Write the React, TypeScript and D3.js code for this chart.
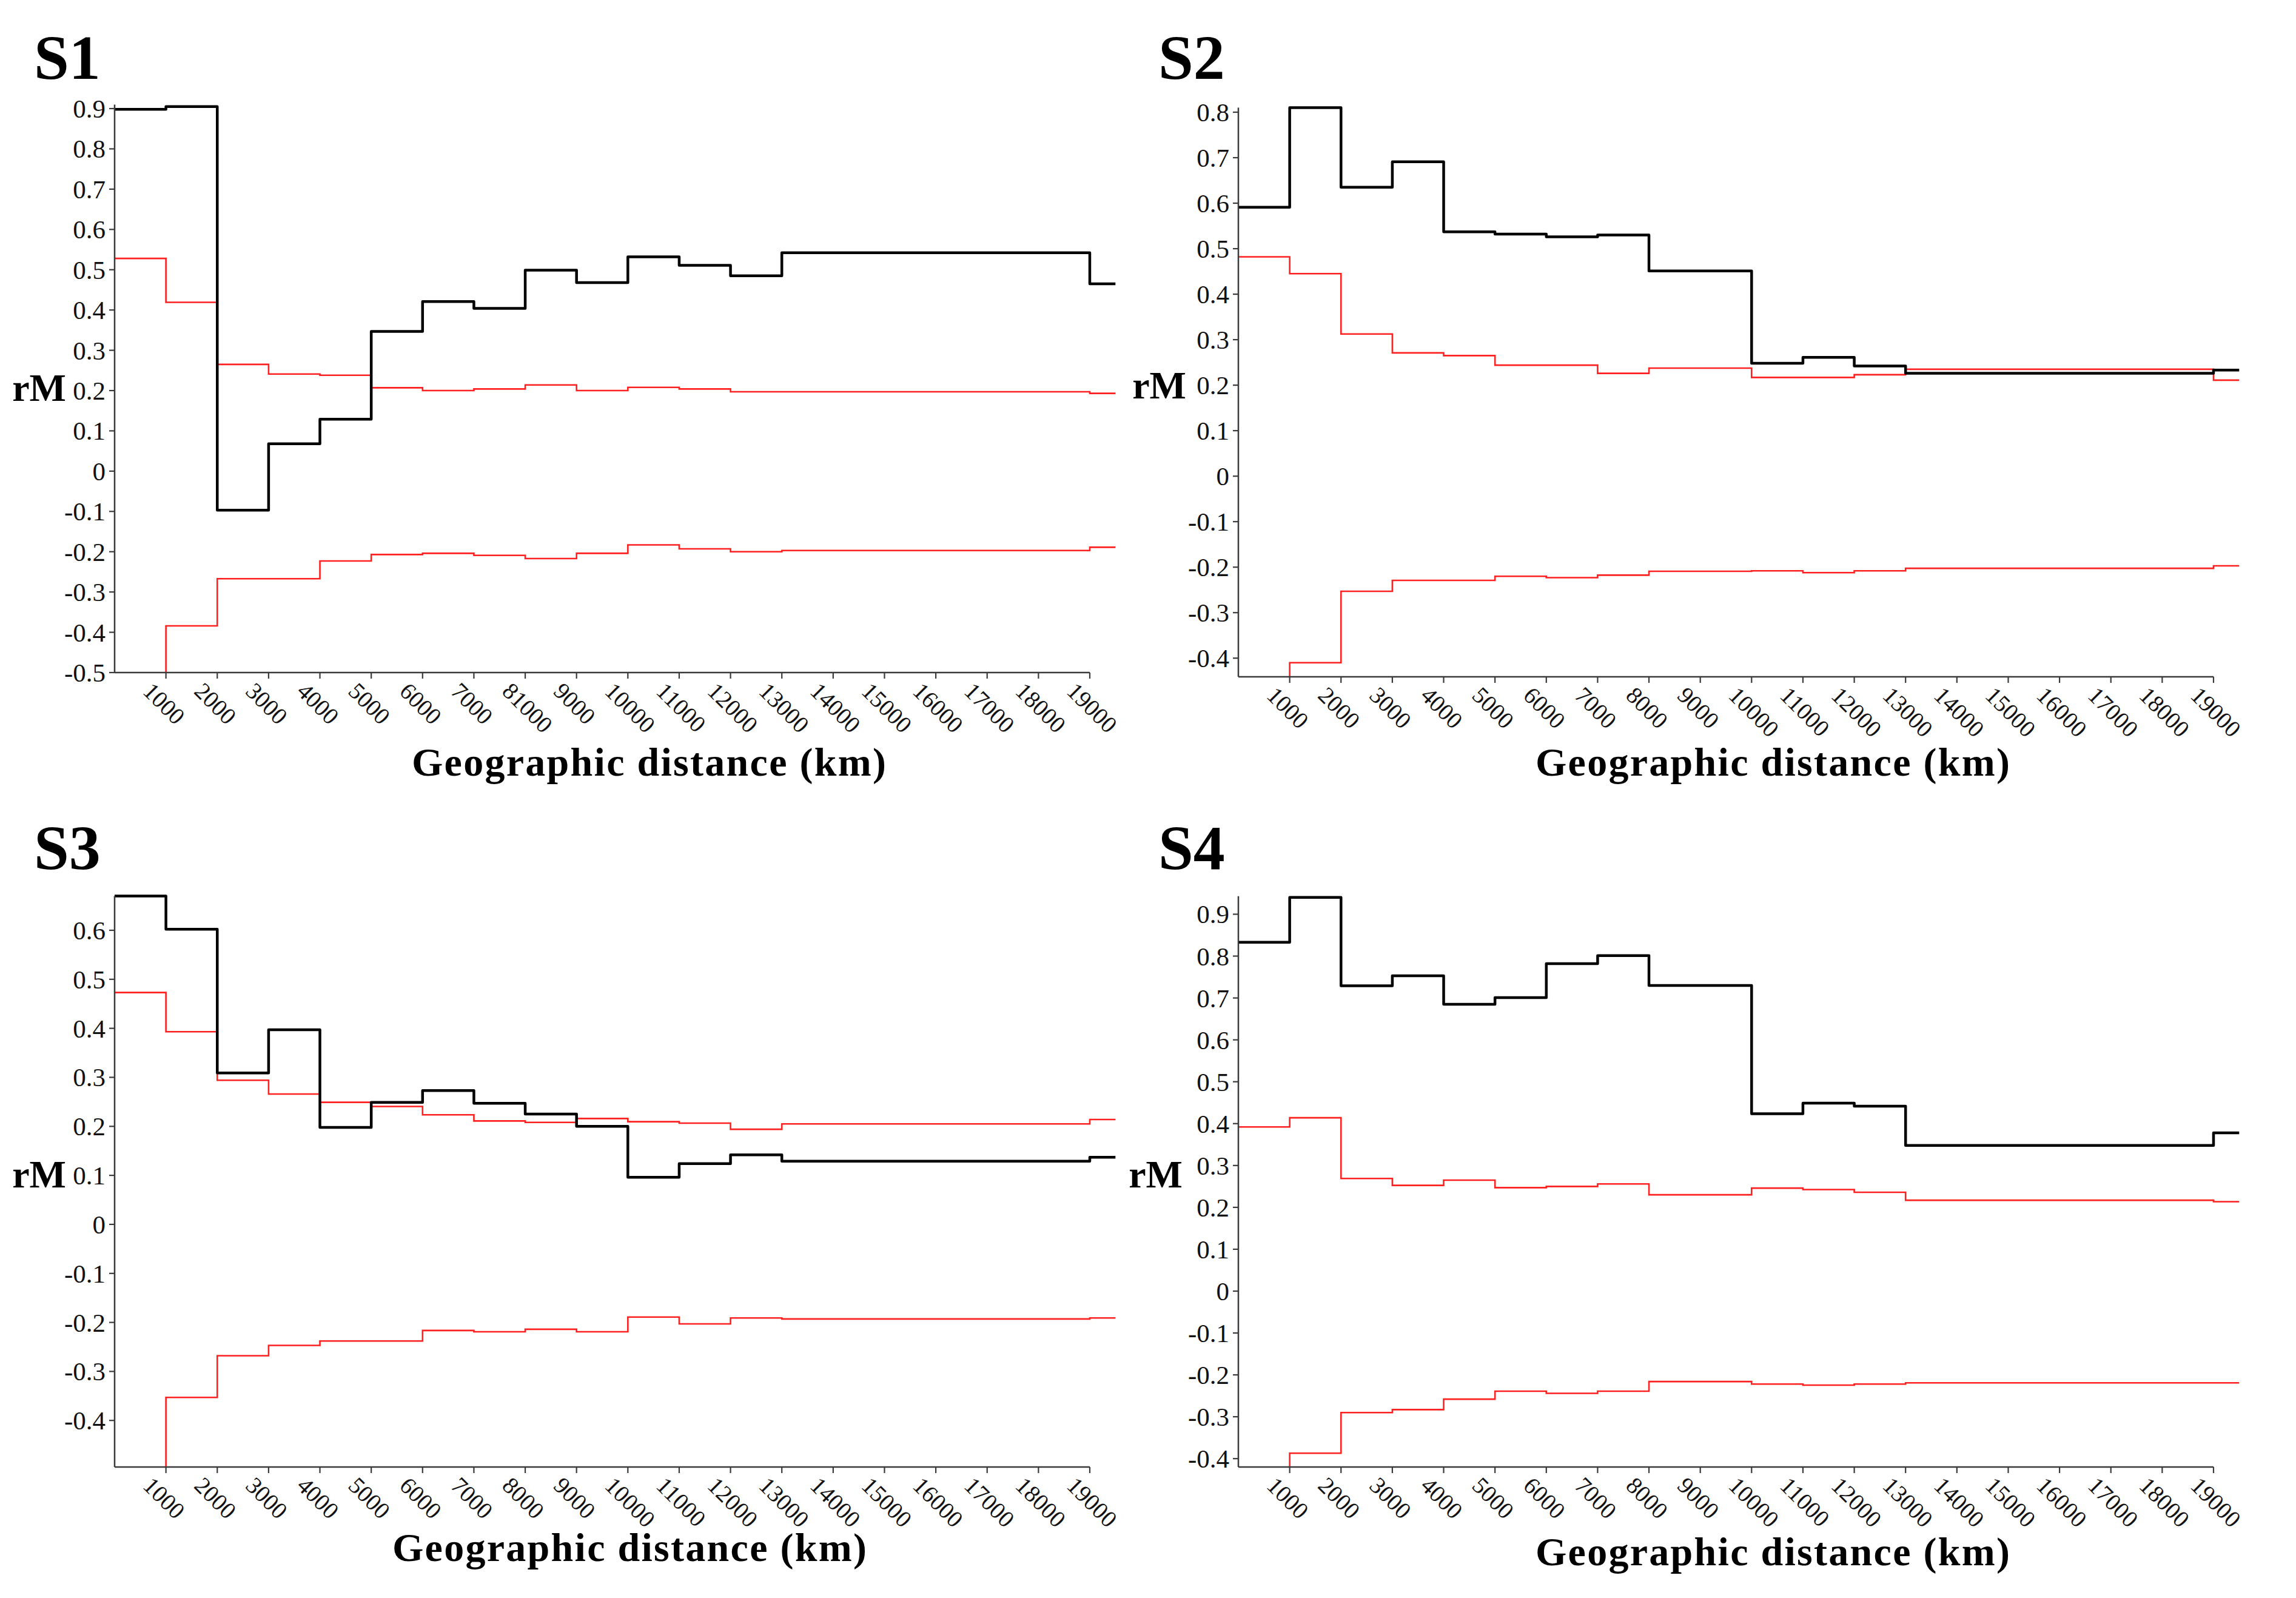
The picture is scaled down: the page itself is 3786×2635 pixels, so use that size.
import React from 'react';
import * as d3 from 'd3';

// ---------- data ----------
// start of each distance class (km); last class runs to distanceEnd
const distances = [0, 1000, 2000, 3000, 4000, 5000, 6000, 7000, 8000, 9000, 10000, 11000, 12000, 13000, 14000, 15000, 16000, 17000, 18000, 19000];
const distanceEnd = 19500;
const xTickValues = [1000, 2000, 3000, 4000, 5000, 6000, 7000, 8000, 9000, 10000, 11000, 12000, 13000, 14000, 15000, 16000, 17000, 18000, 19000];
const xTickLabels = ['1000', '2000', '3000', '4000', '5000', '6000', '7000', '8000', '9000', '10000', '11000', '12000', '13000', '14000', '15000', '16000', '17000', '18000', '19000'];
const xTickLabelsS1 = ['1000', '2000', '3000', '4000', '5000', '6000', '7000', '81000', '9000', '10000', '11000', '12000', '13000', '14000', '15000', '16000', '17000', '18000', '19000'];

const s1Observed = [0.898, 0.905, -0.097, 0.068, 0.129, 0.347, 0.421, 0.404, 0.499, 0.468, 0.532, 0.511, 0.485, 0.542, 0.542, 0.542, 0.542, 0.542, 0.542, 0.465];
const s1Upper = [0.528, 0.419, 0.265, 0.241, 0.238, 0.207, 0.200, 0.204, 0.214, 0.200, 0.208, 0.204, 0.197, 0.197, 0.197, 0.197, 0.197, 0.197, 0.197, 0.193];
const s1Lower = [-0.56, -0.384, -0.267, -0.267, -0.223, -0.207, -0.204, -0.209, -0.217, -0.204, -0.183, -0.193, -0.200, -0.197, -0.197, -0.197, -0.197, -0.197, -0.197, -0.189];
const s1YTicks = [0.9, 0.8, 0.7, 0.6, 0.5, 0.4, 0.3, 0.2, 0.1, 0, -0.1, -0.2, -0.3, -0.4, -0.5];

const s2Observed = [0.591, 0.81, 0.635, 0.691, 0.537, 0.532, 0.526, 0.53, 0.451, 0.451, 0.248, 0.261, 0.242, 0.226, 0.226, 0.226, 0.226, 0.226, 0.226, 0.233];
const s2Upper = [0.482, 0.445, 0.3125, 0.271, 0.265, 0.244, 0.244, 0.226, 0.2375, 0.2375, 0.217, 0.217, 0.223, 0.235, 0.235, 0.235, 0.235, 0.235, 0.235, 0.211];
const s2Lower = [-0.5, -0.41, -0.253, -0.229, -0.229, -0.22, -0.223, -0.2175, -0.209, -0.209, -0.208, -0.212, -0.208, -0.2025, -0.2025, -0.2025, -0.2025, -0.2025, -0.2025, -0.197];
const s2YTicks = [0.8, 0.7, 0.6, 0.5, 0.4, 0.3, 0.2, 0.1, 0, -0.1, -0.2, -0.3, -0.4];

const s3Observed = [0.67, 0.602, 0.309, 0.397, 0.198, 0.249, 0.273, 0.247, 0.225, 0.2, 0.096, 0.124, 0.142, 0.129, 0.129, 0.129, 0.129, 0.129, 0.129, 0.137];
const s3Upper = [0.473, 0.393, 0.294, 0.266, 0.249, 0.2405, 0.2235, 0.211, 0.208, 0.216, 0.2095, 0.2065, 0.194, 0.205, 0.205, 0.205, 0.205, 0.205, 0.205, 0.214];
const s3Lower = [-0.56, -0.353, -0.268, -0.247, -0.238, -0.238, -0.2165, -0.219, -0.214, -0.219, -0.189, -0.203, -0.191, -0.193, -0.193, -0.193, -0.193, -0.193, -0.193, -0.191];
const s3YTicks = [0.6, 0.5, 0.4, 0.3, 0.2, 0.1, 0, -0.1, -0.2, -0.3, -0.4];

const s4Observed = [0.833, 0.94, 0.729, 0.753, 0.685, 0.701, 0.782, 0.801, 0.73, 0.73, 0.4235, 0.449, 0.4415, 0.348, 0.348, 0.348, 0.348, 0.348, 0.348, 0.378];
const s4Upper = [0.392, 0.414, 0.269, 0.2525, 0.265, 0.247, 0.25, 0.256, 0.23, 0.23, 0.246, 0.2425, 0.236, 0.217, 0.217, 0.217, 0.217, 0.217, 0.217, 0.2135];
const s4Lower = [-0.45, -0.387, -0.29, -0.283, -0.258, -0.239, -0.244, -0.239, -0.216, -0.216, -0.222, -0.2245, -0.222, -0.219, -0.219, -0.219, -0.219, -0.219, -0.219, -0.219];
const s4YTicks = [0.9, 0.8, 0.7, 0.6, 0.5, 0.4, 0.3, 0.2, 0.1, 0, -0.1, -0.2, -0.3, -0.4];

const panelNames = ['S1', 'S2', 'S3', 'S4'];
const xTitle = 'Geographic distance (km)';
const yTitle = 'rM';

// ---------- layout ----------
const W = 3786;
const H = 2635;
const SERIF = "'Liberation Serif', 'Times New Roman', serif";

type PanelCfg = {
  id: string;
  name: string;
  observed: number[];
  upper: number[];
  lower: number[];
  yTicks: number[];
  xLabels: string[];
  xRange: [number, number];
  yDomain: [number, number];
  yRange: [number, number];
  titleX: number;
  titleY: number;
  rmX: number;
  rmY: number;
  xtX: number;
  xtY: number;
};

const panels: PanelCfg[] = [
  { id: 'p1', name: panelNames[0], observed: s1Observed, upper: s1Upper, lower: s1Lower, yTicks: s1YTicks, xLabels: xTickLabelsS1,
    xRange: [189, 1797], yDomain: [-0.5, 0.91], yRange: [1109, 172.4], titleX: 56, titleY: 130, rmX: 109, rmY: 661, xtX: 1070, xtY: 1279 },
  { id: 'p2', name: panelNames[1], observed: s2Observed, upper: s2Upper, lower: s2Lower, yTicks: s2YTicks, xLabels: xTickLabels,
    xRange: [2042, 3650], yDomain: [-0.441, 0.81], yRange: [1116, 177.5], titleX: 1910, titleY: 130, rmX: 1956, rmY: 657, xtX: 2923, xtY: 1279 },
  { id: 'p3', name: panelNames[2], observed: s3Observed, upper: s3Upper, lower: s3Lower, yTicks: s3YTicks, xLabels: xTickLabels,
    xRange: [189, 1797], yDomain: [-0.495, 0.67], yRange: [2419, 1477.4], titleX: 56, titleY: 1433, rmX: 109, rmY: 1958, xtX: 1038, xtY: 2574 },
  { id: 'p4', name: panelNames[3], observed: s4Observed, upper: s4Upper, lower: s4Lower, yTicks: s4YTicks, xLabels: xTickLabels,
    xRange: [2042, 3650], yDomain: [-0.42, 0.943], yRange: [2419, 1477.8], titleX: 1910, titleY: 1433, rmX: 1950, rmY: 1958, xtX: 2923, xtY: 2581 },
];

const fmt = (v: number) => (v === 0 ? '0' : String(v));

function Panel({ cfg }: { cfg: PanelCfg }) {
  const x = d3.scaleLinear().domain([0, 19000]).range(cfg.xRange);
  const y = d3.scaleLinear().domain(cfg.yDomain).range(cfg.yRange);
  const line = d3
    .line<[number, number]>()
    .x((d) => x(d[0]))
    .y((d) => y(d[1]))
    .curve(d3.curveStepAfter);
  const pts = (vals: number[]): [number, number][] => {
    const p: [number, number][] = distances.map((d, i) => [d, vals[i]]);
    p.push([distanceEnd, vals[vals.length - 1]]);
    return p;
  };
  const xl = x(0);
  const yb = y(cfg.yDomain[0]);
  const yt = y(cfg.yDomain[1]);
  const xr = x(distanceEnd);
  const axisColor = '#3a3a3a';
  return (
    <g>
      <defs>
        <clipPath id={`clip-${cfg.id}`}>
          <rect x={xl} y={yt - 8} width={xr - xl + 6} height={yb - yt + 8} />
        </clipPath>
      </defs>
      <text x={cfg.titleX} y={cfg.titleY} fontFamily={SERIF} fontWeight="bold" fontSize={104} fill="#000">
        {cfg.name}
      </text>
      <text x={cfg.rmX} y={cfg.rmY} textAnchor="end" fontFamily={SERIF} fontWeight="bold" fontSize={64} fill="#000">
        {yTitle}
      </text>
      <text x={cfg.xtX} y={cfg.xtY} textAnchor="middle" fontFamily={SERIF} fontWeight="bold" fontSize={66}
        textLength={782} lengthAdjust="spacing" fill="#000">
        {xTitle}
      </text>
      {/* data */}
      <g clipPath={`url(#clip-${cfg.id})`} fill="none">
        <path d={line(pts(cfg.upper)) || ''} stroke="#ff2020" strokeWidth={2.6} />
        <path d={line(pts(cfg.lower)) || ''} stroke="#ff2020" strokeWidth={2.6} />
        <path d={line(pts(cfg.observed)) || ''} stroke="#000" strokeWidth={4.5} strokeLinejoin="round" />
      </g>
      {/* axes */}
      <line x1={xl} x2={xl} y1={yt} y2={yb} stroke={axisColor} strokeWidth={2.5} />
      <line x1={xl} x2={x(19000)} y1={yb} y2={yb} stroke={axisColor} strokeWidth={2.5} />
      {cfg.yTicks.map((t) => (
        <g key={`y${t}`}>
          <line x1={xl - 9} x2={xl} y1={y(t)} y2={y(t)} stroke={axisColor} strokeWidth={2.2} />
          <text x={xl - 15} y={y(t) + 15} textAnchor="end" fontFamily={SERIF} fontSize={43} fill="#111">
            {fmt(t)}
          </text>
        </g>
      ))}
      {xTickValues.map((t, i) => (
        <g key={`x${t}`}>
          <line x1={x(t)} x2={x(t)} y1={yb} y2={yb + 10} stroke={axisColor} strokeWidth={2.2} />
          <text transform={`translate(${x(t) - 40},${yb + 33}) rotate(45)`} fontFamily={SERIF} fontSize={39} fill="#111">
            {cfg.xLabels[i]}
          </text>
        </g>
      ))}
    </g>
  );
}

export default function App() {
  return (
    <svg width={W} height={H} viewBox={`0 0 ${W} ${H}`} style={{ position: 'absolute', left: 0, top: 0, background: '#fff' }}>
      <rect x={0} y={0} width={W} height={H} fill="#fff" />
      {panels.map((p) => (
        <Panel key={p.id} cfg={p} />
      ))}
    </svg>
  );
}
